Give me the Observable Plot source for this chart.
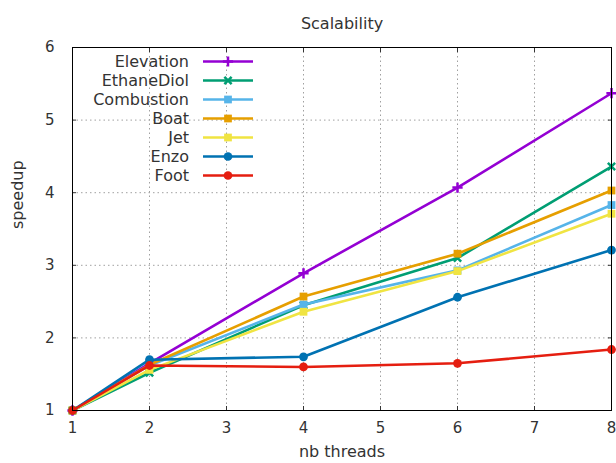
<!DOCTYPE html>
<html>
<head>
<meta charset="utf-8">
<script src="https://cdn.jsdelivr.net/npm/d3@7"></script>
<script src="https://cdn.jsdelivr.net/npm/@observablehq/plot@0.6"></script>
<style>
  html, body { margin: 0; padding: 0; background: #fff; }
  #chart svg { display: block; overflow: visible; }
</style>
</head>
<body>
<div id="chart"></div>
<script>
const threads = [1, 2, 4, 6, 8];
const seriesNames = ["Elevation", "EthaneDiol", "Combustion", "Boat", "Jet", "Enzo", "Foot"];
const elevation  = [1, 1.65, 2.89, 4.07, 5.37];
const ethaneDiol = [1, 1.52, 2.45, 3.10, 4.36];
const combustion = [1, 1.62, 2.46, 2.93, 3.83];
const boat       = [1, 1.63, 2.57, 3.16, 4.03];
const jet        = [1, 1.56, 2.36, 2.92, 3.71];
const enzo       = [1, 1.70, 1.74, 2.56, 3.21];
const foot       = [1, 1.62, 1.60, 1.65, 1.84];
const seriesValues = [elevation, ethaneDiol, combustion, boat, jet, enzo, foot];
const seriesColors = ["#9400d3", "#009e73", "#56b4e9", "#e69f00", "#f0e442", "#0072b2", "#e51e10"];
const seriesSymbols = ["plus", "times", "square", "square", "square", "circle", "circle"];
const xTicks = [1, 2, 3, 4, 5, 6, 7, 8];
const yTicks = [1, 2, 3, 4, 5, 6];

const rows = [];
seriesNames.forEach((name, i) => {
  threads.forEach((t, j) => rows.push({series: name, threads: t, speedup: seriesValues[i][j], idx: i}));
});

const FONT = "DejaVu Sans";
const TXT = "#333";
const marks = [
  Plot.gridX(xTicks, {stroke: "#a0a0a0", strokeOpacity: 1, strokeDasharray: "1.5,3", strokeWidth: 1}),
  Plot.gridY(yTicks, {stroke: "#a0a0a0", strokeOpacity: 1, strokeDasharray: "1.5,3", strokeWidth: 1}),
  // labelled axes
  Plot.axisX({ticks: xTicks, tickFormat: "d", tickSize: 0, tickPadding: 12, fontSize: 15, label: null, color: TXT}),
  Plot.axisY({ticks: yTicks, tickFormat: "d", tickSize: 0, tickPadding: 18, fontSize: 15, label: null, color: TXT}),
  // inner ticks on all sides
  Plot.axisX({anchor: "bottom", ticks: xTicks, tickSize: 4, dy: -4, tickFormat: () => "", label: null}),
  Plot.axisX({anchor: "top", ticks: xTicks, tickSize: 4, dy: 4, tickFormat: () => "", label: null}),
  Plot.axisY({anchor: "left", ticks: yTicks, tickSize: 4, dx: 4, tickFormat: () => "", label: null}),
  Plot.axisY({anchor: "right", ticks: yTicks, tickSize: 4, dx: -4, tickFormat: () => "", label: null}),
];

seriesNames.forEach((name, i) => {
  const data = rows.filter(d => d.idx === i);
  marks.push(Plot.line(data, {x: "threads", y: "speedup", stroke: seriesColors[i], strokeWidth: 2.6}));
  const sym = seriesSymbols[i];
  if (sym === "plus" || sym === "times") {
    marks.push(Plot.dot(data, {x: "threads", y: "speedup", symbol: sym, stroke: seriesColors[i], strokeWidth: 2.5, r: 3.4}));
  } else {
    marks.push(Plot.dot(data, {x: "threads", y: "speedup", symbol: sym, fill: seriesColors[i], stroke: "none", r: sym === "square" ? 4.4 : 4.4}));
  }
});

marks.push(
  Plot.frame({stroke: "#000", strokeWidth: 1}),
  Plot.text(["Scalability"], {frameAnchor: "top", dy: -30, fontSize: 16, fill: TXT}),
  Plot.text(["nb threads"], {frameAnchor: "bottom", dy: 46, fontSize: 16, fill: TXT}),
  Plot.text(["speedup"], {frameAnchor: "left", dx: -55, dy: 0, rotate: -90, fontSize: 16, fill: TXT})
);

const chart = Plot.plot({
  width: 616,
  height: 463,
  marginLeft: 72,
  marginRight: 5,
  marginTop: 47,
  marginBottom: 53,
  style: {fontFamily: FONT, fontSize: "15px", background: "#fff", color: TXT, overflow: "visible"},
  x: {domain: [1, 8]},
  y: {domain: [1, 6]},
  marks
});
document.getElementById("chart").appendChild(chart);

// Legend (inside plot, top-left), drawn into the Plot's SVG
const svg = d3.select(chart);
const lg = svg.append("g").attr("font-family", FONT).attr("font-size", 16);
seriesNames.forEach((name, i) => {
  const y = 61.5 + i * 19;
  lg.append("text").attr("x", 189).attr("y", y).attr("dy", "0.35em")
    .attr("text-anchor", "end").attr("fill", TXT).text(name);
  lg.append("line").attr("x1", 203).attr("x2", 253).attr("y1", y).attr("y2", y)
    .attr("stroke", seriesColors[i]).attr("stroke-width", 2.6);
  const s = seriesSymbols[i];
  const sym = d3.symbol().type({
    plus: d3.symbolPlus, times: d3.symbolTimes, square: d3.symbolSquare, circle: d3.symbolCircle
  }[s]).size(s === "plus" || s === "times" ? 36 : 60);
  const p = lg.append("path").attr("d", sym()).attr("transform", `translate(228,${y})`);
  if (s === "plus" || s === "times") {
    p.attr("fill", "none").attr("stroke", seriesColors[i]).attr("stroke-width", 2.5);
  } else {
    p.attr("fill", seriesColors[i]);
  }
});
</script>
</body>
</html>
